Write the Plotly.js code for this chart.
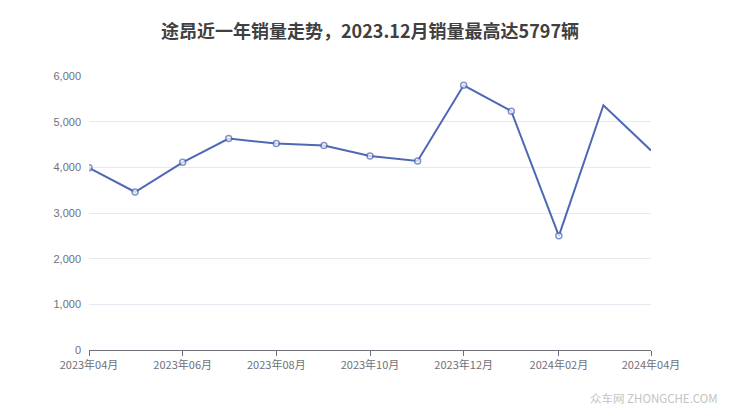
<!DOCTYPE html>
<html>
<head>
<meta charset="utf-8">
<script src="https://cdn.plot.ly/plotly-3.0.1.min.js"></script>
<style>
html,body{margin:0;padding:0;background:#fff;}
#chart{width:740px;height:417px;}
</style>
</head>
<body>
<div id="chart"></div>
<script>
var months = ['2023-04-01','2023-05-01','2023-06-01','2023-07-01','2023-08-01','2023-09-01','2023-10-01','2023-11-01','2023-12-01','2024-01-01','2024-02-01','2024-03-01','2024-04-01'];
var sales = [3990, 3460, 4110, 4630, 4520, 4480, 4250, 4140, 5797, 5230, 2500, 5360, 4370];
var xTicks = ['2023-04-01','2023-06-01','2023-08-01','2023-10-01','2023-12-01','2024-02-01','2024-04-01'];
var xTickText = ['2023年04月','2023年06月','2023年08月','2023年10月','2023年12月','2024年02月','2024年04月'];
var yTicks = [0, 1000, 2000, 3000, 4000, 5000, 6000];
var yTickText = ['0','1,000','2,000','3,000','4,000','5,000','6,000'];

var markerSizes = months.map(function(m, i){ return i < months.length - 2 ? 6 : 0; });

var trace = {
  x: months,
  y: sales,
  type: 'scatter',
  mode: 'lines+markers',
  line: {color: '#4f68b5', width: 2},
  marker: {size: markerSizes, color: '#ffffff', line: {color: '#4f68b5', width: 1.5}},
  hoverinfo: 'x+y'
};

var layout = {
  width: 740,
  height: 417,
  margin: {l: 89, r: 89, t: 76, b: 67},
  paper_bgcolor: '#ffffff',
  plot_bgcolor: '#ffffff',
  showlegend: false,
  title: {
    text: '<b>途昂近一年销量走势，2023.12月销量最高达5797辆</b>',
    x: 0.5, xanchor: 'center', y: 0.925, yanchor: 'middle',
    font: {family: '"Noto Sans CJK SC", "Noto Sans", sans-serif', size: 18, color: '#404040'}
  },
  xaxis: {
    type: 'date',
    range: ['2023-04-01', '2024-04-01'],
    tickmode: 'array',
    tickvals: xTicks,
    ticktext: xTickText,
    showgrid: false,
    zeroline: false,
    showline: true,
    linecolor: '#6e7079',
    linewidth: 1,
    ticks: 'outside',
    ticklen: 5,
    tickcolor: '#6e7079',
    tickfont: {family: '"Noto Sans CJK SC", "Liberation Sans", sans-serif', size: 11, color: '#6e7079'},
    fixedrange: true
  },
  yaxis: {
    range: [0, 6000],
    tickmode: 'array',
    tickvals: yTicks,
    ticktext: yTickText,
    showgrid: true,
    gridcolor: '#e6e9f0',
    gridwidth: 1,
    zeroline: false,
    showline: false,
    ticks: '',
    ticklabelstandoff: 7,
    tickfont: {family: '"Liberation Sans", Arial, sans-serif', size: 11, color: '#6e7079'},
    fixedrange: true
  },
  annotations: [{
    text: '众车网 ZHONGCHE.COM',
    xref: 'paper', yref: 'paper',
    x: 1.123, y: -0.175, xanchor: 'right', yanchor: 'middle',
    showarrow: false,
    font: {family: '"Noto Sans CJK SC", "Liberation Sans", sans-serif', size: 11.5, color: '#c4c4c4'}
  }]
};

Plotly.newPlot('chart', [trace], layout, {displayModeBar: false, staticPlot: true});
</script>
</body>
</html>
